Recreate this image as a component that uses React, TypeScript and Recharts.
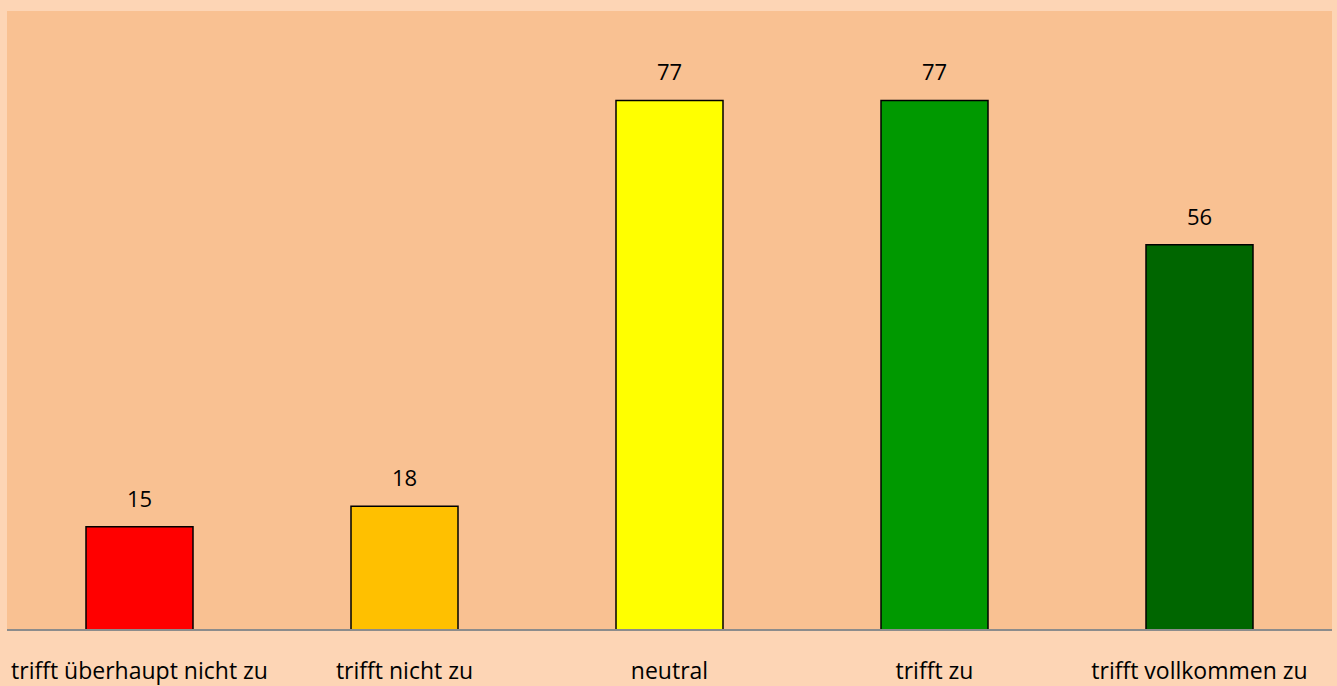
import { BarChart, Bar, XAxis, YAxis, CartesianGrid, Cell, LabelList } from "recharts"

const categories = ["trifft überhaupt nicht zu", "trifft nicht zu", "neutral", "trifft zu", "trifft vollkommen zu"]
const counts = [15, 18, 77, 77, 56]
const barColors = ["#FF0000", "#FFC000", "#FFFF00", "#009900", "#006600"]

const data = categories.map((name, i) => ({ name, value: counts[i] }))

const font = "'Open Sans', 'Noto Sans', sans-serif"

export default function App() {
  return (
    <div style={{ position: "absolute", left: 0, top: 0, width: 1337, height: 686, background: "#FDD5B5", fontFamily: font }}>
      <BarChart width={1337} height={686} data={data} barCategoryGap={79} margin={{ top: 11, right: 5, left: 7, bottom: 0 }}>
        <CartesianGrid horizontal={false} vertical={false} fill="#F9C192" stroke="none" />
        <XAxis
          dataKey="name"
          height={56}
          axisLine={{ stroke: "#8C8C8C", strokeWidth: 2 }}
          tickLine={false}
          tickMargin={27}
          interval={0}
          tick={{ fill: "#000000", fontSize: 23, fontFamily: font }}
        />
        <YAxis hide domain={[0, 90]} />
        <Bar dataKey="value" stroke="#000000" strokeWidth={1.5} isAnimationActive={false}>
          {data.map((d, i) => (
            <Cell key={d.name} fill={barColors[i]} />
          ))}
          <LabelList dataKey="value" position="top" offset={20} fill="#000000" fontSize={22} fontFamily={font} />
        </Bar>
      </BarChart>
    </div>
  )
}
